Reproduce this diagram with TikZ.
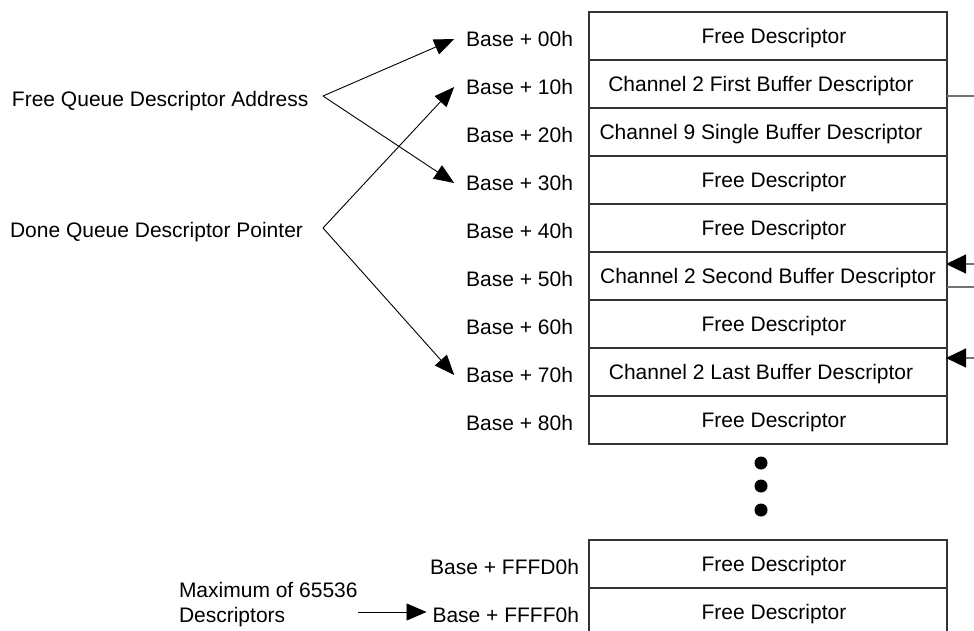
\documentclass[tikz,border=0pt]{standalone}
\usepackage{fontspec}
\setmainfont{Liberation Sans}
\usetikzlibrary{arrows.meta}
\begin{document}
\begin{tikzpicture}[x=1pt,y=-1pt,
  every node/.style={font=\fontsize{21}{25}\selectfont, inner sep=0pt, outer sep=0pt},
  cell/.style={draw=black!80, line width=1.3pt, minimum width=358pt, minimum height=48pt,
    anchor=north west, text height=15pt, text depth=0pt},
  freecell/.style={cell, execute at begin node={\hspace*{12pt}}},
  chancell/.style={cell, execute at begin node={\hspace*{-14pt}}},
  addr/.style={anchor=base east},
  conn/.style={line width=0.9pt, -{Triangle[length=20pt,width=16pt]}},
  side/.style={draw=black!55, line width=1.2pt},
  sidearrow/.style={side, -{Triangle[length=20pt,width=19pt,color=black]}, shorten >=-1pt},
  dot/.style={circle, fill=black, minimum size=13pt}
]
\useasboundingbox (0,0) rectangle (974,630);
\clip (0,0) rectangle (974,630);

% descriptor table
\node[freecell] (r0) at (589,12)  {Free Descriptor};
\node[chancell] (r1) at (589,60)  {Channel 2 First Buffer Descriptor};
\node[chancell] (r2) at (589,108) {Channel 9 Single Buffer Descriptor};
\node[freecell] (r3) at (589,156) {Free Descriptor};
\node[freecell] (r4) at (589,204) {Free Descriptor};
\node[cell]     (r5) at (589,252) {Channel 2 Second Buffer Descriptor};
\node[freecell] (r6) at (589,300) {Free Descriptor};
\node[chancell] (r7) at (589,348) {Channel 2 Last Buffer Descriptor};
\node[freecell] (r8) at (589,396) {Free Descriptor};

\node[freecell] (b0) at (589,540) {Free Descriptor};
\node[freecell] (b1) at (589,588) {Free Descriptor};

% addresses
\node[addr] (l0) at (573,46.5)  {Base + 00h};
\node[addr] (l1) at (573,94.5)  {Base + 10h};
\node[addr] (l2) at (573,142.5) {Base + 20h};
\node[addr] (l3) at (573,190.5) {Base + 30h};
\node[addr] (l4) at (573,238.5) {Base + 40h};
\node[addr] (l5) at (573,286.5) {Base + 50h};
\node[addr] (l6) at (573,334.5) {Base + 60h};
\node[addr] (l7) at (573,382.5) {Base + 70h};
\node[addr] (l8) at (573,430.5) {Base + 80h};
\node[addr] (lb0) at (579,574.5) {Base + FFFD0h};
\node[addr] (lb1) at (579,622.5) {Base + FFFF0h};

% ellipsis dots
\node[dot] (d1) at (761,463) {};
\node[dot] (d2) at (761,486) {};
\node[dot] (d3) at (761,510) {};

% left labels
\node[anchor=base west] (fq) at (12,106) {Free Queue Descriptor Address};
\node[anchor=base west] (dq) at (10,237) {Done Queue Descriptor Pointer};
\coordinate (fqv) at (323,96);
\coordinate (dqv) at (323,228);

\draw[conn] (fqv) -- ([xshift=-12pt]l0.west);
\draw[conn] (fqv) -- ([xshift=-12pt]l3.west);
\draw[conn] (dqv) -- ([xshift=-12pt]l1.west);
\draw[conn] (dqv) -- ([xshift=-12pt]l7.west);

% maximum label
\node[anchor=north west, align=left] (mx) at (179,582) {Maximum of 65536\\Descriptors};
\coordinate (ms) at (358,612);
\draw[conn, -{Triangle[length=20pt,width=17pt]}] (ms) -- ([xshift=-6pt]lb1.west |- ms);

% right side links
\coordinate (e1) at (974,96);
\coordinate (e5a) at (974,264);
\coordinate (e5b) at (974,287);
\coordinate (e7) at (974,358);
\draw[side] (r1.east |- e1) -- (e1);
\draw[sidearrow] (e5a) -- (r5.east |- e5a);
\draw[side] (r5.east |- e5b) -- (e5b);
\draw[sidearrow] (e7) -- (r7.east |- e7);
\end{tikzpicture}
\end{document}
